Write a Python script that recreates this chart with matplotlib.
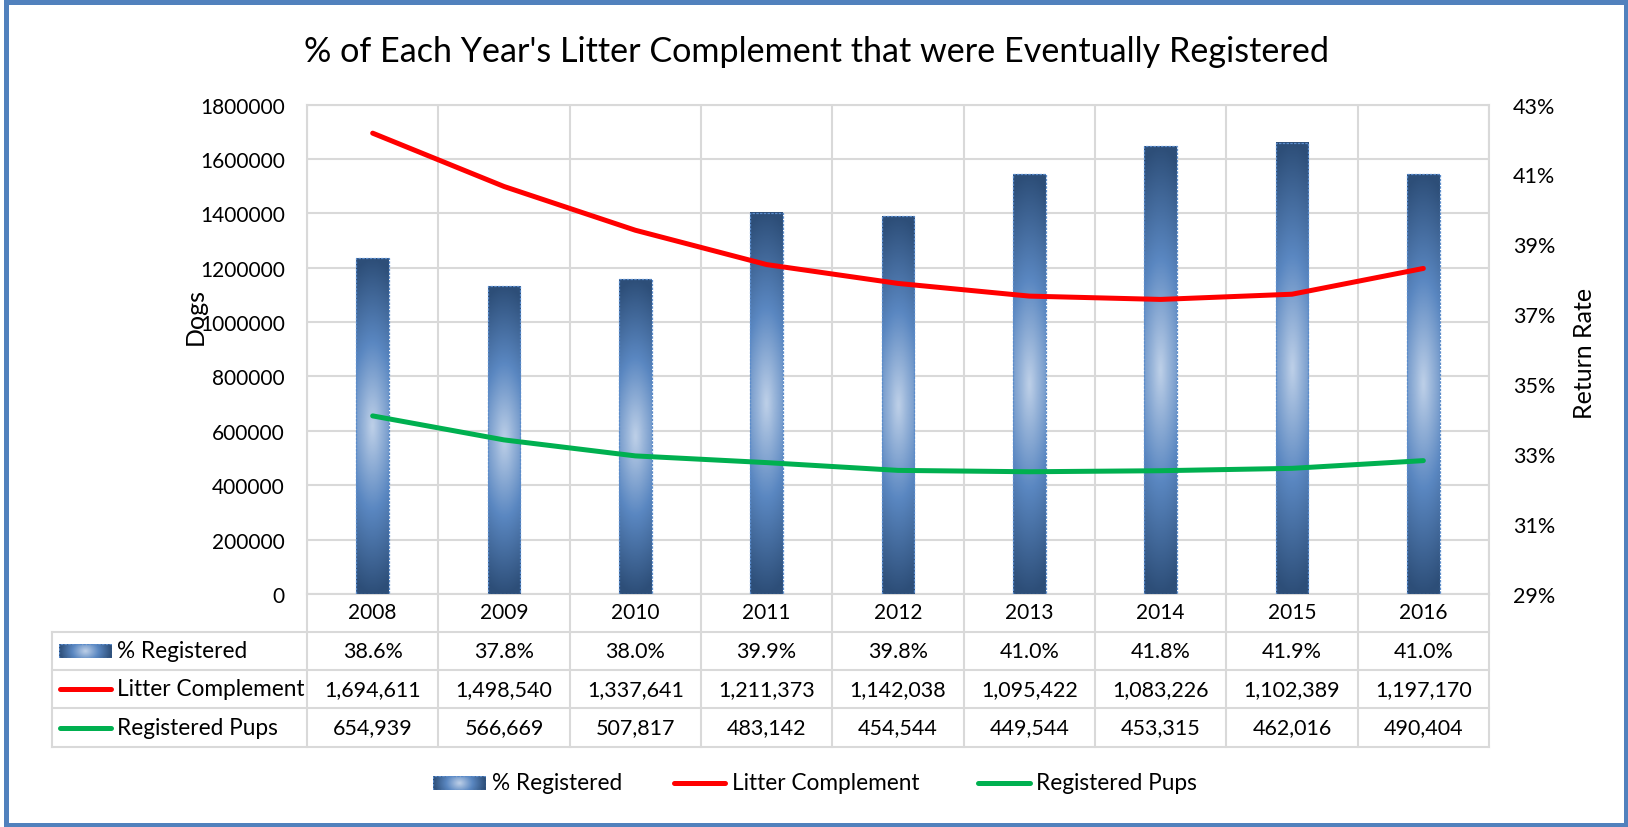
import matplotlib
matplotlib.use("Agg")
import matplotlib.pyplot as plt
import numpy as np
from matplotlib.colors import LinearSegmentedColormap
from matplotlib.lines import Line2D
from matplotlib.patches import Rectangle
from matplotlib.transforms import blended_transform_factory

plt.rcParams["font.family"] = ["Lato", "DejaVu Sans"]

years = ["2008", "2009", "2010", "2011", "2012", "2013", "2014", "2015", "2016"]
pct_registered = [0.386, 0.378, 0.380, 0.399, 0.398, 0.410, 0.418, 0.419, 0.410]
litter_complement = [1694611, 1498540, 1337641, 1211373, 1142038, 1095422, 1083226, 1102389, 1197170]
registered_pups = [654939, 566669, 507817, 483142, 454544, 449544, 453315, 462016, 490404]

W, H = 1628, 828
GRID = "#d9d9d9"
RED = "#ff0000"
GREEN = "#00b050"
FRAME = "#5181bd"
EDGE = "#5b8ccb"
NUM_FS = 15
TXT_FS = 16.3
BAR_CMAP = LinearSegmentedColormap.from_list("bar", ["#bed0e8", "#5a87c1", "#2d4e78"])


def fx(px):
    return px / W


def fy(py):
    return 1 - py / H


def gradient(long_n, short_n, squeeze=0.35):
    a = np.abs(np.linspace(-1, 1, long_n))[:, None]
    b = np.abs(np.linspace(-1, 1, short_n))[None, :]
    return np.clip(np.sqrt(a ** 2 + (squeeze * b) ** 2), 0, 1)


def bar_icon(fig, x0, x1, yc, h=14):
    iax = fig.add_axes([fx(x0), fy(yc + h / 2), fx(x1 - x0), h / H])
    iax.imshow(gradient(120, 30).T, cmap=BAR_CMAP, vmin=0, vmax=1, aspect="auto")
    iax.set_axis_off()
    iax.add_patch(Rectangle((0, 0), 1, 1, transform=iax.transAxes, fill=False,
                            edgecolor=EDGE, lw=0.9, linestyle=(0, (2, 1))))


def line_icon(fig, x0, x1, yc, color):
    fig.add_artist(Line2D([fx(x0), fx(x1)], [fy(yc), fy(yc)], color=color, lw=3.6,
                          solid_capstyle="round"))


fig = plt.figure(figsize=(W / 100, H / 100), dpi=100)
ax = fig.add_axes([fx(307), fy(595), fx(1489 - 307), (595 - 105.5) / H])
ax2 = ax.twinx()

x = np.arange(len(years))
base = 0.29

# bars with a centre-lit gradient, on the right-hand axis
bars = ax2.bar(x, np.array(pct_registered) - base, bottom=base, width=0.25,
               facecolor="none", edgecolor=EDGE, lw=0.9, linestyle=(0, (2, 1)), zorder=3)
for bar in bars:
    x0, y0 = bar.get_x(), bar.get_y()
    ax2.imshow(gradient(300, 30), cmap=BAR_CMAP, vmin=0, vmax=1, aspect="auto",
               origin="lower", extent=(x0, x0 + bar.get_width(), y0, y0 + bar.get_height()),
               zorder=2)

# lines use the left-hand scale but sit above the bars
ax2.plot(x, litter_complement, transform=ax.transData, color=RED, lw=3.6,
         solid_capstyle="round", zorder=4)
ax2.plot(x, registered_pups, transform=ax.transData, color=GREEN, lw=3.6,
         solid_capstyle="round", zorder=4)

ax.set_xlim(-0.5, len(years) - 0.5)
ax.set_ylim(0, 1800000)
ax.set_yticks(np.arange(0, 1800001, 200000))
ax.set_yticklabels([str(v) for v in range(0, 1800001, 200000)])
ax.set_xticks(x)
ax.set_xticklabels(years)
ax.set_xticks(np.arange(-0.5, len(years), 1), minor=True)
ax.grid(axis="y", color=GRID, lw=1.5)
ax.grid(axis="x", which="minor", color=GRID, lw=1.5)
ax.set_axisbelow(True)
for s in ax.spines.values():
    s.set_color(GRID)
    s.set_linewidth(1.5)
ax.tick_params(axis="both", which="both", length=0, labelsize=NUM_FS, colors="black")
ax.tick_params(axis="y", pad=16)
ax.tick_params(axis="x", pad=6)

ax2.set_xlim(-0.5, len(years) - 0.5)
ax2.set_ylim(0.29, 0.43)
ax2.set_yticks(np.arange(0.29, 0.431, 0.02))
ax2.set_yticklabels([f"{v:.0%}" for v in np.arange(0.29, 0.431, 0.02)])
ax2.tick_params(axis="y", length=0, pad=17, labelsize=15.5)
for s in ax2.spines.values():
    s.set_visible(False)

ax.set_ylabel("Dogs", fontsize=18)
ax.yaxis.label.set(ha="center", va="center", rotation_mode="default")
ax.yaxis.set_label_coords((195 - 307) / 1182, (595 - 317) / 489.5)
ax2.set_ylabel("Return Rate", fontsize=18)
ax2.yaxis.label.set(ha="center", va="center", rotation_mode="default")
ax2.yaxis.set_label_coords((1584 - 307) / 1182, (595 - 353) / 489.5)

fig.text(fx(817), fy(52), "% of Each Year's Litter Complement that were Eventually Registered",
         ha="center", va="center", fontsize=24.6)

# data table under the plot
blend = blended_transform_factory(ax.transData, fig.transFigure)
row_lines = [632.7, 671, 709, 748]
for b in np.arange(-0.5, len(years), 1):
    ax.plot([b, b], [fy(595), fy(748)], transform=blend, color=GRID, lw=1.5, clip_on=False)
fig.add_artist(Line2D([fx(52), fx(52)], [fy(632.7), fy(748)], color=GRID, lw=1.5))
for yl in row_lines:
    fig.add_artist(Line2D([fx(52), fx(1489)], [fy(yl), fy(yl)], color=GRID, lw=1.5))

row_centres = [652, 690, 728.5]
rows = [
    [f"{v:.1%}" for v in pct_registered],
    [f"{v:,}" for v in litter_complement],
    [f"{v:,}" for v in registered_pups],
]
for yc, cells in zip(row_centres, rows):
    for i, cell in enumerate(cells):
        ax.text(i, fy(yc), cell, transform=blend, ha="center", va="center", fontsize=15.5)

bar_icon(fig, 59, 112, row_centres[0])
line_icon(fig, 60, 111, row_centres[1], RED)
line_icon(fig, 60, 111, row_centres[2], GREEN)
for yc, name in zip(row_centres, ["% Registered", "Litter Complement", "Registered Pups"]):
    fig.text(fx(117), fy(yc), name, ha="left", va="center", fontsize=TXT_FS)

# legend row
bar_icon(fig, 433, 486, 784)
fig.text(fx(492), fy(784), "% Registered", ha="left", va="center", fontsize=TXT_FS)
line_icon(fig, 674, 725, 784, RED)
fig.text(fx(732), fy(784), "Litter Complement", ha="left", va="center", fontsize=TXT_FS)
line_icon(fig, 978, 1030, 784, GREEN)
fig.text(fx(1036), fy(784), "Registered Pups", ha="left", va="center", fontsize=TXT_FS)

# outer chart frame
fig.add_artist(Rectangle((fx(5.5), fy(825.5)), fx(1626 - 5.5), (825.5 - 3) / H,
                         fill=False, edgecolor=FRAME, lw=3.6))

fig.savefig("out.png", dpi=100)
plt.close(fig)
